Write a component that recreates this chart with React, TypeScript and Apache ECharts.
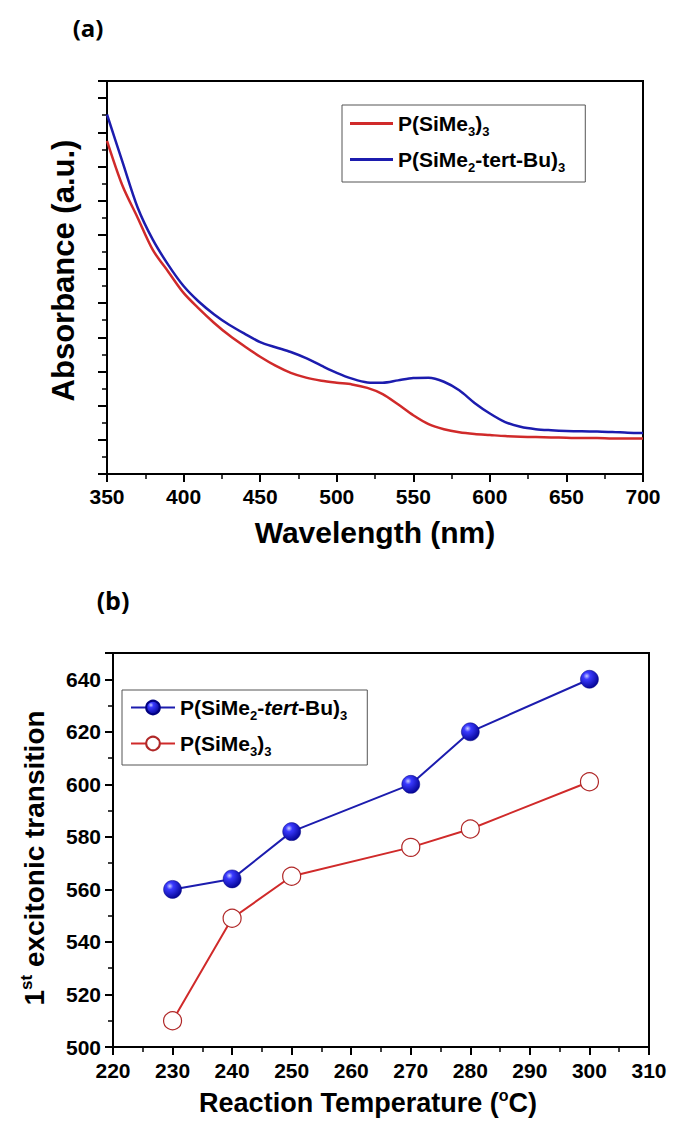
import React, { useEffect, useRef } from "react";
import * as echarts from "echarts";

// ---------- Data: panel (a) UV-vis absorbance ----------
const wavelengths = [
  350, 360, 370, 380, 390, 400, 410, 420, 430, 440, 450, 460, 470, 480, 490, 500,
  510, 520, 530, 540, 550, 560, 570, 580, 590, 600, 610, 620, 630, 640, 650, 660,
  670, 680, 690, 700,
];
const absSiMe3 = [
  0.975, 0.845, 0.75, 0.655, 0.592, 0.53, 0.484, 0.442, 0.405, 0.373, 0.343, 0.317,
  0.296, 0.282, 0.273, 0.267, 0.262, 0.252, 0.234, 0.204, 0.172, 0.146, 0.131, 0.122,
  0.117, 0.114, 0.111, 0.109, 0.108, 0.107, 0.106, 0.105, 0.105, 0.104, 0.104, 0.104,
];
const absTertBu = [
  1.052, 0.915, 0.78, 0.685, 0.612, 0.55, 0.504, 0.467, 0.436, 0.41, 0.386, 0.371,
  0.357, 0.339, 0.317, 0.296, 0.279, 0.268, 0.267, 0.274, 0.281, 0.282, 0.27, 0.245,
  0.208, 0.177, 0.152, 0.138, 0.131, 0.128, 0.126, 0.125, 0.124, 0.123, 0.121, 0.12,
];

// ---------- Data: panel (b) 1st excitonic transition ----------
const temperatures = [230, 240, 250, 270, 280, 300];
const excTertBu = [560, 564, 582, 600, 620, 640];
const excSiMe3 = [510, 549, 565, 576, 583, 601];

const NAME_SIME3 = "P(SiMe3)3";
const NAME_TERTBU = "P(SiMe2-tert-Bu)3";

const F = "'Liberation Sans', Arial, sans-serif";
const RED = "#d02a2a";
const BLUE = "#1c1cae";

const richLegend = {
  n: { fontSize: 21, fontWeight: "bold", fontFamily: F, color: "#000" },
  i: { fontSize: 21, fontWeight: "bold", fontStyle: "italic", fontFamily: F, color: "#000" },
  s: { fontSize: 13, fontWeight: "bold", fontFamily: F, color: "#000", padding: [16, 0, 0, 0] },
};

function axisCommon() {
  return {
    axisLine: { show: true, onZero: false, lineStyle: { color: "#000", width: 2 } },
    axisTick: { show: true, inside: false, length: 8, lineStyle: { color: "#000", width: 2 } },
    minorTick: { show: true, splitNumber: 2, length: 5, lineStyle: { color: "#000", width: 1.5 } },
    splitLine: { show: false },
    minorSplitLine: { show: false },
  };
}

function optionA(): any {
  return {
    animation: false,
    grid: {
      left: 107, top: 81, width: 536, height: 393,
      show: true, borderColor: "#000", borderWidth: 2, backgroundColor: "transparent",
    },
    xAxis: {
      type: "value", min: 350, max: 700, interval: 50,
      ...axisCommon(),
      axisLabel: { color: "#000", fontSize: 21, fontWeight: "bold", fontFamily: F, margin: 12 },
      name: "Wavelength (nm)", nameLocation: "middle", nameGap: 43,
      nameTextStyle: { color: "#000", fontSize: 30, fontWeight: "bold", fontFamily: F },
    },
    yAxis: {
      type: "value", min: 0, max: 1.15, interval: 0.1,
      ...axisCommon(),
      axisTick: { show: true, inside: false, length: 9, lineStyle: { color: "#000", width: 2 } },
      axisLabel: { show: false },
      name: "Absorbance (a.u.)", nameLocation: "middle", nameGap: 28,
      nameTextStyle: { color: "#000", fontSize: 31, fontWeight: "bold", fontFamily: F, padding: [0, 0, 0, 14] },
    },
    legend: {
      orient: "vertical", left: 342, top: 105,
      data: [NAME_SIME3, NAME_TERTBU],
      icon: "rect",
      padding: [8, 20, 8, 8], itemGap: 11, itemWidth: 43, itemHeight: 3,
      borderColor: "#555", borderWidth: 1, backgroundColor: "#fff",
      formatter: (name: string) =>
        name === NAME_SIME3 ? "{n|P(SiMe}{s|3}{n|)}{s|3}" : "{n|P(SiMe}{s|2}{n|-tert-Bu)}{s|3}",
      textStyle: { rich: richLegend },
    },
    series: [
      {
        type: "line", name: NAME_SIME3, symbol: "none", showSymbol: false, smooth: 0.3,
        data: wavelengths.map((w, i) => [w, absSiMe3[i]]),
        lineStyle: { color: RED, width: 2.5 }, itemStyle: { color: RED },
      },
      {
        type: "line", name: NAME_TERTBU, symbol: "none", showSymbol: false, smooth: 0.3,
        data: wavelengths.map((w, i) => [w, absTertBu[i]]),
        lineStyle: { color: BLUE, width: 2.5 }, itemStyle: { color: BLUE },
      },
    ],
    graphic: [
      {
        type: "text", x: 88, y: 27,
        style: { text: "(a)", fontSize: 24, fontWeight: "bold", fontFamily: "'Open Sans', sans-serif", fill: "#000", align: "center", verticalAlign: "middle" },
      },
    ],
  };
}

function optionB(): any {
  const sphere = {
    type: "radial", x: 0.35, y: 0.32, r: 0.75,
    colorStops: [
      { offset: 0, color: "#c8ccff" },
      { offset: 0.25, color: "#3a3aff" },
      { offset: 1, color: "#00008c" },
    ],
  };
  return {
    animation: false,
    grid: {
      left: 113, top: 83, width: 536, height: 394,
      show: true, borderColor: "#000", borderWidth: 2, backgroundColor: "transparent",
    },
    xAxis: {
      type: "value", min: 220, max: 310, interval: 10,
      ...axisCommon(),
      axisLabel: { color: "#000", fontSize: 21, fontWeight: "bold", fontFamily: F, margin: 13 },
      name: "{n|Reaction Temperature (}{sup|o}{n|C)}", nameLocation: "middle", nameGap: 40,
      nameTextStyle: {
        color: "#000", fontSize: 27, fontWeight: "bold", fontFamily: F, padding: [0, 26, 0, 0],
        rich: {
          n: { fontSize: 27, fontWeight: "bold", fontFamily: F, color: "#000" },
          sup: { fontSize: 16, fontWeight: "bold", fontFamily: F, color: "#000", padding: [0, 0, 16, 0] },
        },
      },
    },
    yAxis: {
      type: "value", min: 500, max: 650, interval: 20,
      ...axisCommon(),
      axisLabel: { color: "#000", fontSize: 21, fontWeight: "bold", fontFamily: F, margin: 12, showMaxLabel: false },
      name: "{n|1}{sup|st}{n| excitonic transition}", nameLocation: "middle", nameGap: 62,
      nameTextStyle: {
        color: "#000", fontSize: 28, fontWeight: "bold", fontFamily: F, padding: [0, 16, 0, 0],
        rich: {
          n: { fontSize: 28, fontWeight: "bold", fontFamily: F, color: "#000" },
          sup: { fontSize: 17, fontWeight: "bold", fontFamily: F, color: "#000", padding: [0, 0, 16, 0] },
        },
      },
    },
    legend: {
      orient: "vertical", left: 122, top: 120,
      data: [NAME_TERTBU, NAME_SIME3],
      padding: [7, 20, 7, 8], itemGap: 11, itemWidth: 44, itemHeight: 17,
      borderColor: "#555", borderWidth: 1, backgroundColor: "#fff",
      formatter: (name: string) =>
        name === NAME_SIME3 ? "{n|P(SiMe}{s|3}{n|)}{s|3}" : "{n|P(SiMe}{s|2}{n|-}{i|tert}{n|-Bu)}{s|3}",
      textStyle: { rich: richLegend },
    },
    series: [
      {
        type: "line", name: NAME_TERTBU, symbol: "circle", symbolSize: 18, z: 3,
        data: temperatures.map((t, i) => [t, excTertBu[i]]),
        lineStyle: { color: BLUE, width: 2 },
        itemStyle: { color: sphere, borderColor: "#000080", borderWidth: 0.5 },
      },
      {
        type: "line", name: NAME_SIME3, symbol: "circle", symbolSize: 18, z: 2,
        data: temperatures.map((t, i) => [t, excSiMe3[i]]),
        lineStyle: { color: RED, width: 2 },
        itemStyle: { color: "#fff", borderColor: "#b02828", borderWidth: 1.2 },
      },
    ],
    graphic: [
      {
        type: "text", x: 113, y: 30,
        style: { text: "(b)", fontSize: 25, fontWeight: "bold", fontFamily: "'Open Sans', sans-serif", fill: "#000", align: "center", verticalAlign: "middle" },
      },
    ],
  };
}

export default function App() {
  const refA = useRef<HTMLDivElement>(null);
  const refB = useRef<HTMLDivElement>(null);

  useEffect(() => {
    const a = echarts.init(refA.current!, undefined, { renderer: "svg" });
    const b = echarts.init(refB.current!, undefined, { renderer: "svg" });
    a.setOption(optionA());
    b.setOption(optionB());
    return () => {
      a.dispose();
      b.dispose();
    };
  }, []);

  return (
    <div style={{ position: "absolute", left: 0, top: 0, width: 685, height: 1138, background: "#fff" }}>
      <div ref={refA} style={{ position: "absolute", left: 0, top: 0, width: 685, height: 570 }} />
      <div ref={refB} style={{ position: "absolute", left: 0, top: 570, width: 685, height: 568 }} />
    </div>
  );
}
